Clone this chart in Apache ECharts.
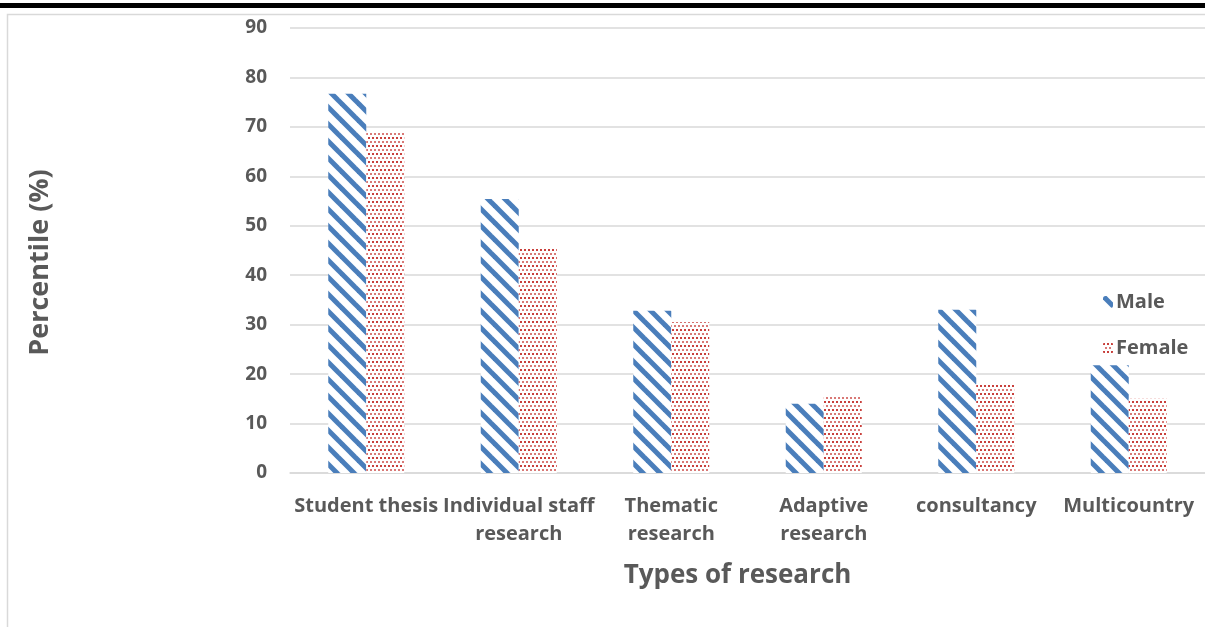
<!DOCTYPE html>
<html>
<head>
<meta charset="utf-8">
<script src="https://cdn.jsdelivr.net/npm/echarts@6/dist/echarts.min.js"></script>
<style>
  html, body { margin: 0; padding: 0; background: #fff; }
  #chart { width: 1205px; height: 627px; }
</style>
</head>
<body>
<div id="chart"></div>
<script>
const categories = ['Student thesis', 'Individual staff\nresearch', 'Thematic\nresearch', 'Adaptive\nresearch', 'consultancy', 'Multicountry']
const maleValues = [76.7, 55.4, 32.8, 14.0, 33.0, 21.8]
const femaleValues = [68.8, 45.5, 30.5, 15.8, 18.0, 15.0]
const yTicks = { min: 0, max: 90, interval: 10 }

// diagonal stripe fill for Male
function stripes() {
  const c = document.createElement('canvas')
  c.width = 17
  c.height = 17
  const ctx = c.getContext('2d')
  ctx.fillStyle = '#ffffff'
  ctx.fillRect(0, 0, 17, 17)
  ctx.strokeStyle = '#4a7ebb'
  ctx.lineWidth = 5
  for (let o = -17; o <= 17; o += 17) {
    ctx.beginPath()
    ctx.moveTo(o - 2, -2)
    ctx.lineTo(o + 19, 19)
    ctx.stroke()
  }
  return c
}

// small dots fill for Female
function dots() {
  const c = document.createElement('canvas')
  c.width = 8
  c.height = 8
  const ctx = c.getContext('2d')
  ctx.fillStyle = '#ffffff'
  ctx.fillRect(0, 0, 8, 8)
  ctx.fillStyle = '#c9403c'
  ctx.fillRect(0, 1, 2, 2)
  ctx.fillRect(4, 1, 2, 2)
  ctx.fillStyle = 'rgba(201,64,60,0.7)'
  ctx.fillRect(2, 5, 2, 2)
  ctx.fillRect(6, 5, 2, 2)
  return c
}

const chart = echarts.init(document.getElementById('chart'))
const txt = '#595959'
const font = '"Open Sans", "Liberation Sans", sans-serif'

chart.setOption({
  animation: false,
  textStyle: { fontFamily: font },
  graphic: [
    // frame pieces around the chart
    { type: 'rect', shape: { x: 0, y: 3, width: 1205, height: 5 }, style: { fill: '#000' } },
    { type: 'rect', shape: { x: 7.5, y: 14.5, width: 1220, height: 640 }, style: { fill: 'none', stroke: '#d9d9d9', lineWidth: 1.5 } },
  ],
  grid: {
    left: 290,
    top: 28,
    width: 918,
    height: 445,
  },
  legend: {
    orient: 'vertical',
    left: 1098,
    top: 287,
    itemWidth: 10,
    itemHeight: 12,
    itemGap: 26,
    data: ['Male', 'Female'],
    textStyle: { color: txt, fontSize: 20, fontWeight: 'bold', fontFamily: font, padding: [0, 0, 0, -2] },
  },
  xAxis: {
    type: 'category',
    data: categories,
    axisLine: { lineStyle: { color: '#d9d9d9', width: 1.5 } },
    axisTick: { show: false },
    axisLabel: {
      interval: 0,
      color: txt,
      fontSize: 20,
      fontWeight: 'bold',
      lineHeight: 28,
      margin: 19,
    },
    name: 'Types of research',
    nameLocation: 'middle',
    nameGap: 90,
    nameTextStyle: { color: txt, fontSize: 26, fontWeight: 'bold', padding: [0, 20, 0, 0] },
  },
  yAxis: {
    type: 'value',
    min: yTicks.min,
    max: yTicks.max,
    interval: yTicks.interval,
    axisLine: { show: false },
    axisTick: { show: false },
    axisLabel: { color: txt, fontSize: 19, fontWeight: 'bold', margin: 23 },
    splitLine: { lineStyle: { color: '#d9d9d9', width: 1.5 } },
    name: 'Percentile (%)',
    nameLocation: 'middle',
    nameGap: 236,
    nameTextStyle: { color: txt, fontSize: 27, fontWeight: 'bold', padding: [0, 24, 0, 0] },
  },
  series: [
    {
      name: 'Male',
      type: 'bar',
      barWidth: 38,
      barGap: '0%',
      data: maleValues,
      itemStyle: { color: { image: stripes(), repeat: 'repeat' } },
    },
    {
      name: 'Female',
      type: 'bar',
      barWidth: 38,
      data: femaleValues,
      itemStyle: { color: { image: dots(), repeat: 'repeat' } },
    },
  ],
})
</script>
</body>
</html>
